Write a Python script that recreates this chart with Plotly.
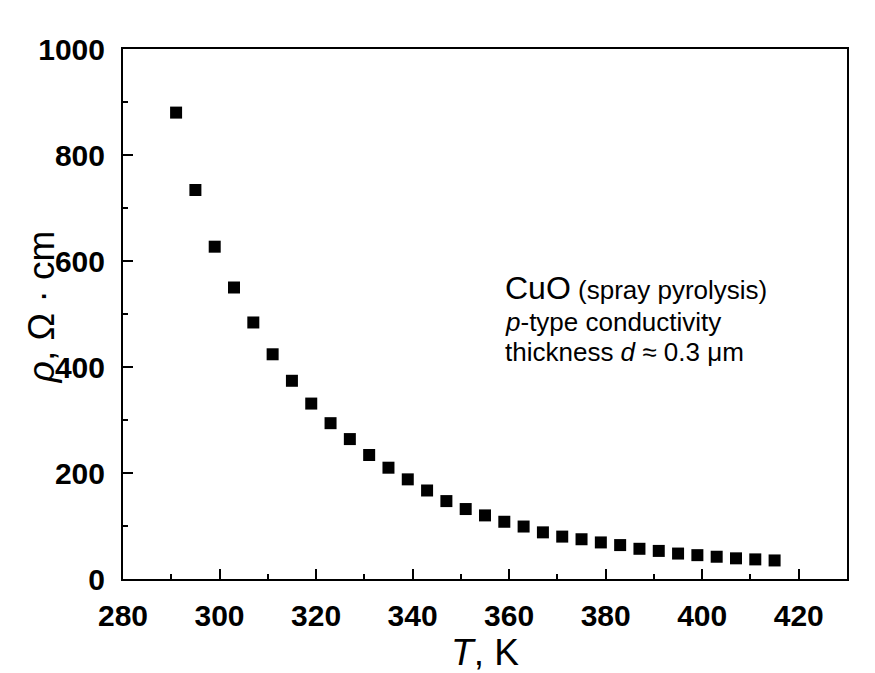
import plotly.graph_objects as go

# Data
temperature_K = [291, 295, 299, 303, 307, 311, 315, 319, 323, 327, 331, 335, 339, 343, 347, 351,
                 355, 359, 363, 367, 371, 375, 379, 383, 387, 391, 395, 399, 403, 407, 411, 415]
resistivity = [880, 734, 627, 550, 484, 424, 374, 331, 294, 264, 234, 210, 188, 167, 147, 132,
               120, 108, 99, 88, 80, 75, 69, 64, 57, 53, 48, 45, 42, 39, 37, 35]

x_ticks = [280, 300, 320, 340, 360, 380, 400, 420]
y_ticks = [0, 200, 400, 600, 800, 1000]

FONT = "Liberation Sans, Arial, sans-serif"

fig = go.Figure()
fig.add_trace(go.Scatter(
    x=temperature_K, y=resistivity, mode="markers",
    marker=dict(symbol="square", size=12, color="black", line=dict(width=0)),
    showlegend=False,
))

axis_common = dict(
    showline=True, linecolor="black", linewidth=2, mirror=True,
    ticks="inside", ticklen=10, tickwidth=2, tickcolor="black",
    showgrid=False, zeroline=False, automargin=False,
    tickfont=dict(family=FONT, size=30, color="black", weight="bold"),
)

fig.update_xaxes(
    range=[280, 430], tickvals=x_ticks, ticktext=[str(v) for v in x_ticks],
    minor=dict(ticks="inside", ticklen=5, tickwidth=2, tickcolor="black", dtick=10, tick0=280, showgrid=False),
    title=dict(text="<i>T</i>, K", font=dict(family=FONT, size=37, color="black"), standoff=17),
    ticklabelstandoff=9,
    **axis_common,
)
fig.update_yaxes(
    range=[0, 1000], tickvals=y_ticks, ticktext=[str(v) for v in y_ticks],
    minor=dict(ticks="inside", ticklen=5, tickwidth=2, tickcolor="black", dtick=100, tick0=0, showgrid=False),
    ticklabelstandoff=10,
    **axis_common,
)

# y-axis title (placed as rotated text, closer to the tick labels than a standard title allows)
fig.add_annotation(xref="paper", yref="paper", x=-0.113, y=0.513, xanchor="center", yanchor="middle",
                   textangle=-90, text="<i>ρ</i>, Ω · cm", showarrow=False,
                   font=dict(family=FONT, size=37, color="black"))

ann_font = dict(family=FONT, size=26, color="black")
fig.add_annotation(xref="paper", yref="paper", x=0.525, y=0.549, xanchor="left", yanchor="middle",
                   text="<span style='font-size:32px'>CuO</span> (spray pyrolysis)", showarrow=False, font=ann_font)
fig.add_annotation(xref="paper", yref="paper", x=0.525, y=0.485, xanchor="left", yanchor="middle",
                   text="<i>p</i>-type conductivity", showarrow=False, font=ann_font)
fig.add_annotation(xref="paper", yref="paper", x=0.525, y=0.428, xanchor="left", yanchor="middle",
                   text="thickness <i>d</i> ≈ 0.3 μm", showarrow=False, font=ann_font)

fig.update_layout(
    width=875, height=673,
    margin=dict(l=123, r=28, t=49, b=94),
    paper_bgcolor="white", plot_bgcolor="white",
    font=dict(family=FONT, color="black"),
)

fig.write_html("out.html")
